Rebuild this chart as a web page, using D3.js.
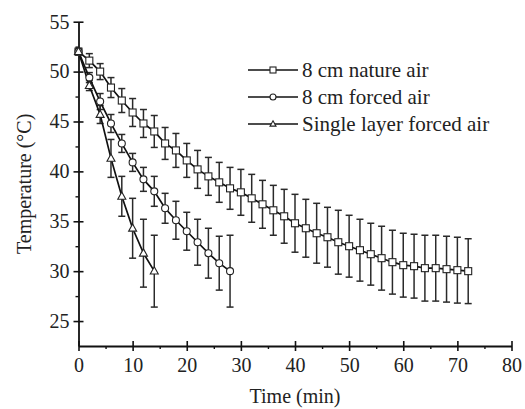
<!DOCTYPE html>
<html><head><meta charset="utf-8">
<script src="https://cdn.jsdelivr.net/npm/d3@7"></script>
<style>body{margin:0;background:#fff}svg{display:block}</style>
</head><body><svg id="c" width="525" height="409"></svg>
<script>
// ---- data ----
const natureTime = [0,2,4,6,8,10,12,14,16,18,20,22,24,26,28,30,32,34,36,38,40,42,44,46,48,50,52,54,56,58,60,62,64,66,68,70,72];
const natureTemp = [52.0,51.1,50.0,48.4,47.1,45.9,44.8,44.0,42.8,42.1,41.1,40.2,39.5,38.9,38.3,37.9,37.3,36.7,36.1,35.5,34.8,34.3,33.8,33.4,32.9,32.5,32.1,31.7,31.3,30.9,30.6,30.5,30.3,30.3,30.2,30.1,30.0];
const natureErr  = [0.3,0.7,0.8,1.0,1.2,1.4,1.4,1.6,1.6,1.7,1.7,1.9,1.9,2.0,2.1,2.3,2.4,2.4,2.5,2.7,2.9,2.9,3.0,3.0,3.2,3.1,3.1,3.1,3.2,3.2,3.2,3.2,3.3,3.3,3.3,3.3,3.25];

const forcedTime = [0,2,4,6,8,10,12,14,16,18,20,22,24,26,28];
const forcedTemp = [52.0,49.4,47.0,44.8,42.8,40.9,39.2,38.0,36.3,35.1,34.0,32.9,31.8,30.8,30.0];
const forcedErr  = [0.3,0.5,0.8,0.9,0.9,0.9,1.2,1.5,1.5,1.9,1.9,2.3,2.5,2.7,3.6];

const singleTime = [0,2,4,6,8,10,12,14];
const singleTemp = [52.0,48.6,45.7,41.3,37.5,34.3,31.8,30.0];
const singleErr  = [0.3,0.5,0.9,1.9,2.0,3.0,3.4,3.6];

const seriesNames = ["8 cm nature air","8 cm forced air","Single layer forced air"];
const seriesSymbols = ["square","circle","triangle"];

const xTicks = [0,10,20,30,40,50,60,70,80];
const xMinor = [5,15,25,35,45,55,65,75];
const yTicks = [25,30,35,40,45,50,55];
const yMinor = [27.5,32.5,37.5,42.5,47.5,52.5];
const xTitle = "Time (min)";
const yTitle = "Temperature (°C)";

// ---- chart ----
const svg = d3.select("#c");
const font = "'Liberation Serif','Times New Roman',serif";
const x = d3.scaleLinear().domain([0,80]).range([78.5,511.5]);
const y = d3.scaleLinear().domain([22.5,55]).range([346,21.7]);

const series = [
  {name:seriesNames[0], sym:seriesSymbols[0], d:natureTime.map((t,i)=>({t,v:natureTemp[i],e:natureErr[i]}))},
  {name:seriesNames[1], sym:seriesSymbols[1], d:forcedTime.map((t,i)=>({t,v:forcedTemp[i],e:forcedErr[i]}))},
  {name:seriesNames[2], sym:seriesSymbols[2], d:singleTime.map((t,i)=>({t,v:singleTemp[i],e:singleErr[i]}))}
];

// axes
const gx = svg.append("g").attr("transform",`translate(0,${y(22.5)})`);
gx.call(d3.axisBottom(x).tickValues(xTicks).tickSize(5).tickSizeOuter(0).tickFormat(d3.format("d")));
gx.selectAll(".tick line").attr("y1",-5).attr("y2",5).attr("stroke","#111").attr("stroke-width",1.6);
gx.selectAll(".tick text").attr("y",12).attr("font-family",font).attr("font-size",20).attr("fill","#222");
gx.select(".domain").attr("stroke","#111").attr("stroke-width",1.8);
const gxm = svg.append("g").attr("transform",`translate(0,${y(22.5)})`);
gxm.call(d3.axisBottom(x).tickValues(xMinor).tickSize(3).tickFormat(""));
gxm.select(".domain").remove();
gxm.selectAll(".tick line").attr("stroke","#111").attr("stroke-width",1.4);

const gy = svg.append("g").attr("transform",`translate(${x(0)},0)`);
gy.call(d3.axisLeft(y).tickValues(yTicks).tickSize(5).tickSizeOuter(0).tickFormat(d3.format("d")));
gy.selectAll(".tick line").attr("x1",-5).attr("x2",5).attr("stroke","#111").attr("stroke-width",1.6);
gy.selectAll(".tick text").attr("x",-9).attr("font-family",font).attr("font-size",20).attr("fill","#222");
gy.select(".domain").attr("stroke","#111").attr("stroke-width",1.8);
const gym = svg.append("g").attr("transform",`translate(${x(0)},0)`);
gym.call(d3.axisLeft(y).tickValues(yMinor).tickSize(3).tickFormat(""));
gym.select(".domain").remove();
gym.selectAll(".tick line").attr("stroke","#111").attr("stroke-width",1.4);

// axis titles
svg.append("text").attr("x",(x(0)+x(80))/2).attr("y",403).attr("text-anchor","middle")
  .attr("font-family",font).attr("font-size",20).attr("fill","#222").text(xTitle);
svg.append("text").attr("transform",`translate(31,${(y(22.5)+y(55))/2}) rotate(-90)`).attr("text-anchor","middle")
  .attr("font-family",font).attr("font-size",20).attr("fill","#222").text(yTitle);

// error bars
const cap = 3.5;
series.forEach(s=>{
  const g = svg.append("g").attr("stroke","#2a2a2a").attr("stroke-width",1.5).attr("fill","none");
  s.d.forEach(p=>{
    const cx = x(p.t), y1 = y(p.v+p.e), y2 = y(p.v-p.e);
    g.append("line").attr("x1",cx).attr("x2",cx).attr("y1",y1).attr("y2",y2);
    g.append("line").attr("x1",cx-cap).attr("x2",cx+cap).attr("y1",y1).attr("y2",y1);
    g.append("line").attr("x1",cx-cap).attr("x2",cx+cap).attr("y1",y2).attr("y2",y2);
  });
});

// lines
const line = d3.line().x(p=>x(p.t)).y(p=>y(p.v));
series.forEach(s=>{
  svg.append("path").datum(s.d).attr("d",line).attr("fill","none").attr("stroke","#111").attr("stroke-width",1.7);
});

// markers
function drawMarker(g, sym, cx, cy, sz){
  if(sym==="square"){
    g.append("rect").attr("x",cx-sz/2).attr("y",cy-sz/2).attr("width",sz).attr("height",sz);
  } else if(sym==="circle"){
    g.append("circle").attr("cx",cx).attr("cy",cy).attr("r",sz/2);
  } else {
    const h = sz*0.9;
    g.append("path").attr("d",`M${cx},${cy-h*0.6}L${cx+sz/2},${cy+h*0.4}L${cx-sz/2},${cy+h*0.4}Z`);
  }
}
series.forEach(s=>{
  const g = svg.append("g").attr("fill","#fff").attr("stroke","#222").attr("stroke-width",1.1);
  s.d.forEach(p=>drawMarker(g, s.sym, x(p.t), y(p.v), s.sym==="triangle"?8:7));
});

// legend
const legY = [70,97,124];
series.forEach((s,i)=>{
  const g = svg.append("g");
  g.append("line").attr("x1",248).attr("x2",298).attr("y1",legY[i]).attr("y2",legY[i]).attr("stroke","#111").attr("stroke-width",1.7);
  const mg = g.append("g").attr("fill","#fff").attr("stroke","#222").attr("stroke-width",1.1);
  drawMarker(mg, s.sym, 273, legY[i], 6);
  g.append("text").attr("x",302).attr("y",legY[i]+7).attr("font-family",font).attr("font-size",21).attr("fill","#222").text(s.name);
});
</script>
</body></html>
